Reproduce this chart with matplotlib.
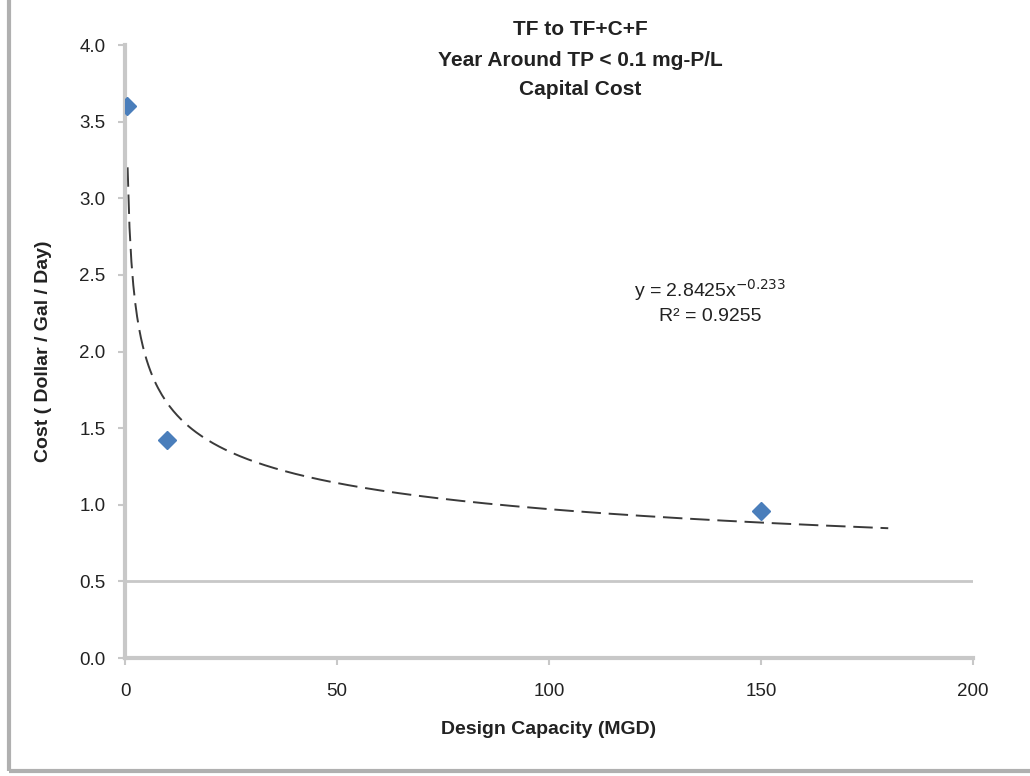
import matplotlib.pyplot as plt
import numpy as np
from matplotlib.patches import Rectangle

plt.rcParams['font.family'] = ['Liberation Sans', 'DejaVu Sans']

# data
capacity = [0.5, 10, 150]          # MGD
cost = [3.6, 1.42, 0.96]           # $/gal/day
fit_range = [0.6, 180]
x_ticks = [0, 50, 100, 150, 200]
y_ticks = [0.0, 0.5, 1.0, 1.5, 2.0, 2.5, 3.0, 3.5, 4.0]
title_lines = ["TF to TF+C+F", "Year Around TP < 0.1 mg-P/L", "Capital Cost"]

# power trend line (fit in log space, like Excel)
b, loga = np.polyfit(np.log(capacity), np.log(cost), 1)
a = np.exp(loga)
xf = np.linspace(fit_range[0], fit_range[1], 400)
yf = a * xf ** b

fig = plt.figure(figsize=(10.3, 7.76), dpi=100)
ax = fig.add_axes([0.1214, 0.152, 0.8233, 0.790])

gray = '#c8c8c8'
txt = '#222222'
ax.axhline(0.5, color=gray, lw=2.0, zorder=1)
ax.plot(xf, yf, color='#3a3a3a', lw=1.4, dashes=(10, 4), zorder=2)
ax.plot(capacity, cost, 'D', color='#4a7ebb', markersize=9, zorder=3)

ax.text(138, 2.40, "y = %.4fx$^{%.3f}$" % (a, b), fontsize=14, ha='center',
        va='center', color=txt)
ax.text(138, 2.23, "R² = 0.9255", fontsize=14, ha='center', va='center',
        color=txt)

ax.set_xlim(0, 200)
ax.set_ylim(0, 4)
ax.set_xticks(x_ticks)
ax.set_yticks(y_ticks)
ax.set_yticklabels(["%.1f" % v for v in y_ticks])
for s in ['top', 'right']:
    ax.spines[s].set_visible(False)
for s in ['left', 'bottom']:
    ax.spines[s].set_color(gray)
    ax.spines[s].set_linewidth(3)
ax.tick_params(axis='both', colors=gray, labelcolor=txt, labelsize=13.5,
               length=5, width=1.5)
ax.tick_params(axis='x', pad=13)
ax.tick_params(axis='y', pad=9)

ax.set_xlabel("Design Capacity (MGD)", fontsize=14, fontweight='bold',
              labelpad=15, color=txt)
ax.set_ylabel("Cost ( Dollar / Gal / Day)", fontsize=14, fontweight='bold',
              labelpad=20, color=txt)

title_y = [0.9626, 0.922, 0.885]
for line, ty in zip(title_lines, title_y):
    fig.text(0.563, ty, line, fontsize=15, fontweight='bold', ha='center',
             va='center', color=txt)

# outer chart border
fig.add_artist(Rectangle((0.009, 0.006), 1.2, 1.2, transform=fig.transFigure,
                         fill=False, edgecolor='#b0b0b0', lw=3))

fig.savefig("out.png", dpi=100)
